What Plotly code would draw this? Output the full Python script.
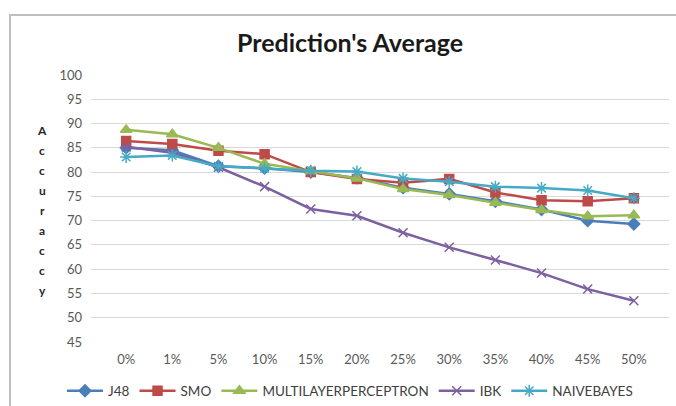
import plotly.graph_objects as go

# Noise level (x categories) and classifier accuracy (%)
noise_levels = ["0%", "1%", "5%", "10%", "15%", "20%", "25%", "30%", "35%", "40%", "45%", "50%"]
j48 = [85.0, 84.5, 81.2, 80.8, 80.0, 78.8, 76.8, 75.5, 74.0, 72.3, 70.0, 69.3]
smo = [86.4, 85.8, 84.4, 83.7, 80.0, 78.6, 77.8, 78.6, 75.8, 74.2, 74.0, 74.6]
mlp = [88.7, 87.8, 85.0, 81.7, 80.2, 78.7, 76.5, 75.3, 73.7, 72.2, 70.9, 71.1]
ibk = [85.2, 84.0, 81.0, 77.0, 72.4, 71.0, 67.5, 64.5, 61.9, 59.2, 55.9, 53.5]
naive_bayes = [83.1, 83.4, 81.2, 80.8, 80.3, 80.1, 78.7, 78.0, 77.0, 76.7, 76.2, 74.6]
y_ticks = list(range(45, 101, 5))

series = [
    ("J48", j48, "#4A7EBB", "diamond", 9),
    ("SMO", smo, "#BE4B48", "square", 9),
    ("MULTILAYERPERCEPTRON", mlp, "#98B954", "triangle-up", 10),
    ("IBK", ibk, "#7D60A0", "x-thin-open", 9),
    ("NAIVEBAYES", naive_bayes, "#46AAC5", "asterisk-open", 10),
]

fig = go.Figure()
for name, vals, color, symbol, size in series:
    fig.add_trace(go.Scatter(
        x=noise_levels, y=vals, name=name, mode="lines+markers",
        line=dict(color=color, width=2.5),
        marker=dict(symbol=symbol, size=size, color=color,
                    line=dict(color=color, width=1.5)),
    ))

# plot area geometry in pixels (used to place frame and side label)
W, H = 676, 406
ml, mr, mt, mb = 91, 7, 75, 64
pw, ph = W - ml - mr, H - mt - mb


def px_x(x):
    return (x - ml) / pw


def px_y(y):
    return (H - mb - y) / ph


shapes = [dict(type="rect", xref="paper", yref="paper",
               x0=px_x(10), x1=px_x(690), y0=px_y(420), y1=px_y(15),
               line=dict(color="#BFBFBF", width=2), fillcolor="rgba(0,0,0,0)",
               layer="below")]

# stacked vertical axis label
annotations = []
label = "Accuraccy"
for i, ch in enumerate(label):
    annotations.append(dict(
        text=ch, xref="paper", yref="paper", x=px_x(42), y=px_y(130 + i * 20),
        showarrow=False, xanchor="center", yanchor="middle",
        font=dict(family="Lato", size=12, color="#262626", weight="bold"),
    ))

fig.update_layout(
    width=W, height=H,
    margin=dict(l=ml, r=mr, t=mt, b=mb, autoexpand=False),
    paper_bgcolor="white", plot_bgcolor="white",
    title=dict(text="<b>Prediction's Average</b>", x=350 / W, xref="container",
               xanchor="center", y=1 - 43 / H, yanchor="middle",
               font=dict(family="Lato", size=25, color="#1a1a1a")),
    font=dict(family="Lato", size=13, color="#595959"),
    xaxis=dict(type="category", showgrid=False, zeroline=False, showline=False,
               ticks="", ticklabelstandoff=8, tickfont=dict(size=13, color="#595959")),
    yaxis=dict(range=[45, 100], tickvals=y_ticks, showgrid=True,
               gridcolor="#D9D9D9", gridwidth=1, zeroline=False, showline=False,
               ticks="", ticklabelstandoff=8, tickfont=dict(size=13, color="#595959")),
    legend=dict(orientation="h", x=px_x(350), xanchor="center", y=px_y(391),
                yanchor="middle", font=dict(size=13.5, color="#404040"),
                itemwidth=36, tracegroupgap=0),
    shapes=shapes,
    annotations=annotations,
)

fig.write_html("out.html")
